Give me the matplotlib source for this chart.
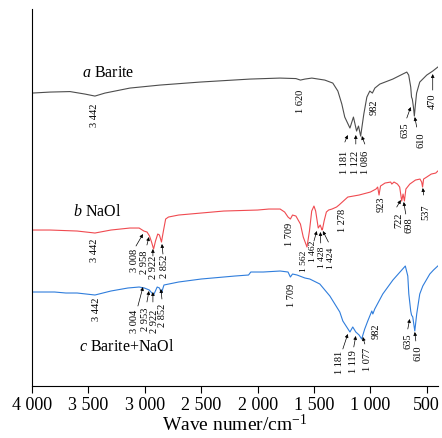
import matplotlib
matplotlib.use('Agg')
import matplotlib.pyplot as plt

plt.rcParams['font.family'] = ['Liberation Serif', 'DejaVu Serif']
plt.rcParams['mathtext.fontset'] = 'custom'
plt.rcParams['mathtext.rm'] = 'Liberation Serif'
plt.rcParams['mathtext.it'] = 'Liberation Serif:italic'

# a Barite
a_wn = [4000, 3840, 3663, 3530, 3442, 3353, 3132, 2866, 2511, 2068, 1802, 1660, 1620, 1580, 1519,
        1404, 1333, 1288, 1253, 1227, 1181, 1150, 1122, 1105, 1086, 1058, 1031, 1005, 982, 960,
        916, 801, 713, 677, 660, 642, 635, 628, 618, 610, 600, 590, 562, 500, 447, 402]
a_T = [306, 307, 307.5, 305, 303, 306, 311, 314, 317, 320, 321, 320.5, 319, 320, 321,
       319, 316, 308, 295, 282, 271, 282, 268, 273, 263, 285, 302, 308, 306, 311,
       315, 320, 325, 327, 324, 312, 302, 300, 292, 283, 295, 306, 317, 324, 328, 332]

# b NaOl
b_wn = [4000, 3840, 3600, 3442, 3300, 3132, 3050, 3008, 2980, 2958, 2940, 2922, 2905, 2885, 2870,
        2852, 2835, 2815, 2790, 2700, 2500, 2300, 2000, 1900, 1800, 1760, 1730, 1709, 1690, 1660,
        1620, 1595, 1562, 1540, 1520, 1500, 1485, 1462, 1445, 1428, 1424, 1410, 1390, 1370, 1340,
        1300, 1278, 1200, 1100, 1000, 950, 935, 923, 910, 870, 820, 810, 790, 760, 740,
        722, 710, 698, 685, 650, 600, 560, 545, 537, 528, 500, 460, 420, 402]
b_T = [169, 169, 168, 166, 169, 171, 171, 168, 167, 163, 157, 150, 158, 165, 164,
       157, 168, 180, 182, 184, 186, 188, 189, 190, 190, 187, 182, 180, 184, 183,
       175, 162, 152, 168, 188, 193, 188, 171, 174, 169, 170, 178, 187, 189, 190,
       192, 194, 202, 204, 207, 210, 212, 204, 213, 216, 217, 215, 217, 215, 212,
       198, 205, 198, 210, 215, 219, 220, 217, 212, 220, 222, 225, 226, 228]

# c Barite+NaOl
c_wn = [4000, 3900, 3800, 3700, 3600, 3442, 3300, 3150, 3050, 3004, 2960, 2922, 2890, 2870, 2852,
        2830, 2700, 2500, 2200, 2080, 2060, 1950, 1800, 1730, 1709, 1690, 1650, 1580, 1537, 1448,
        1359, 1271, 1244, 1181, 1156, 1129, 1100, 1077, 1050, 1023, 987, 978, 961, 890, 800,
        690, 668, 659, 642, 635, 624, 606, 589, 562, 535, 473, 440, 402]
c_T = [107, 107, 107, 106, 106, 104, 108, 111, 112, 111, 109, 104, 112, 111, 106,
       114, 117, 120, 123, 124, 127, 127, 128, 127, 122, 125, 124, 121, 120, 115,
       103, 87, 78, 67, 72, 67, 64, 60, 70, 78, 88, 85, 90, 105, 119,
       133, 123, 105, 88, 84, 82, 68, 85, 105, 113, 125, 129, 133]

xticks = [4000, 3500, 3000, 2500, 2000, 1500, 1000, 500]
xtick_labels = ['4 000', '3 500', '3 000', '2 500', '2 000', '1 500', '1 000', '500']

# peak labels: text, x, y, arrow (x0, y0, x1, y1) or None
peaks_a = [
    ('3 442', 3442, 285, None),
    ('1 620', 1616, 299, None),
    ('1 181', 1231, 238, (1226, 257, 1200, 264)),
    ('1 122', 1134, 238, (1129, 255, 1129, 264)),
    ('1 086', 1045, 238, (1049, 255, 1076, 263)),
    ('982', 970, 293, None),
    ('635', 695, 270, (677, 281, 642, 292)),
    ('610', 553, 260, (589, 272, 606, 282)),
    ('470', 447, 298.5, (447, 309, 447, 325)),
]
peaks_b = [
    ('3 442', 3442, 150, None),
    ('3 008', 3092, 139.5, (3078, 153, 3016, 165)),
    ('2 958', 2999, 138, (2981, 154, 2963, 162)),
    ('2 922', 2919, 132.5, (2928, 143, 2928, 150)),
    ('2 852', 2826, 133.5, (2839, 145, 2848, 155)),
    ('1 709', 1714, 166, None),
    ('1 562', 1592, 138.5, None),
    ('1 462', 1512, 149, (1500, 158, 1475, 168)),
    ('1 428', 1432, 143, (1440, 156, 1443, 167)),
    ('1 424', 1352, 142, (1372, 157, 1421, 168)),
    ('1 278', 1244, 180, None),
    ('923', 907, 196, None),
    ('722', 748, 180, (766, 192, 730, 199)),
    ('698', 659, 175, (686, 185, 704, 197)),
    ('537', 509, 188, (527, 204, 535, 211)),
]
peaks_c = [
    ('3 442', 3424, 91, None),
    ('3 004', 3087, 79, (3061, 93, 3016, 112)),
    ('2 953', 2994, 81, (2981, 97, 2963, 108)),
    ('2 922', 2915, 79, (2928, 97, 2928, 107)),
    ('2 852', 2844, 85, (2848, 100, 2857, 110)),
    ('1 709', 1700, 105, None),
    ('1 181', 1271, 38, (1244, 50, 1200, 65)),
    ('1 119', 1151, 38, (1147, 52, 1129, 63)),
    ('1 077', 1027, 41, (1049, 55, 1067, 62)),
    ('982', 952, 69, None),
    ('635', 668, 59, (668, 70, 651, 80)),
    ('610', 580, 47, (597, 58, 606, 67)),
]
crowded = ['1 562', '1 462', '1 428', '1 424']

fig = plt.figure(figsize=(4.42, 4.39), dpi=100)
ax = fig.add_axes([0.0724, 0.1185, 0.9186, 0.8585])

ax.plot(a_wn, a_T, color='#4d4d4d', lw=0.8)
ax.plot(b_wn, b_T, color='#f04a50', lw=0.8)
ax.plot(c_wn, c_T, color='#2f7ddc', lw=0.8)

for i, peaks in enumerate([peaks_a, peaks_b, peaks_c]):
    for txt, x, y, arr in peaks:
        fs = 6.8 if (i == 1 and txt in crowded) else 7.5
        ax.text(x, y, txt, rotation=90, fontsize=fs, ha='center', va='center')
        if arr:
            ax.annotate('', xy=(arr[2], arr[3]), xytext=(arr[0], arr[1]),
                        arrowprops=dict(arrowstyle='-|>', color='k', lw=0.5,
                                        mutation_scale=5, shrinkA=0, shrinkB=0))

ax.text(3327, 327, r'$\it{a}$ Barite', fontsize=11.5, ha='center', va='center')
ax.text(3424, 188, r'$\it{b}$ NaOl', fontsize=11.5, ha='center', va='center')
ax.text(3158, 53, r'$\it{c}$ Barite+NaOl', fontsize=11.5, ha='center', va='center')

ax.set_xlim(4000, 400)
ax.set_ylim(13, 390)
ax.set_xticks(xticks)
ax.set_xticklabels(xtick_labels)
ax.set_yticks([])
ax.spines['top'].set_visible(False)
ax.spines['right'].set_visible(False)
ax.tick_params(axis='x', direction='out', length=5, width=0.8, labelsize=13, pad=2)
ax.set_xlabel('Wave numer/cm$^{-1}$', fontsize=14, labelpad=0)

fig.savefig('out.png', dpi=100)
